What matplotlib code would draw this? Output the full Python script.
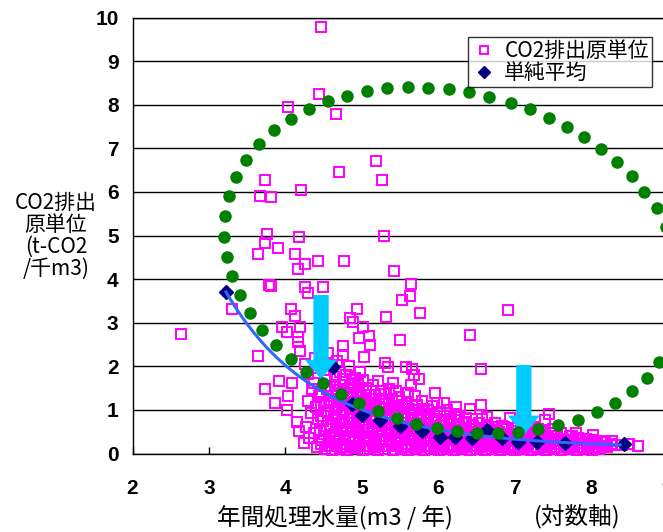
import matplotlib
matplotlib.use('Agg')
import matplotlib.pyplot as plt
import numpy as np
from matplotlib.patches import FancyArrow

plt.rcParams['font.family'] = ['Noto Sans CJK JP', 'DejaVu Sans']

# ---------------- data ----------------
# scattered CO2 unit values (x = log10 annual volume, y = t-CO2/千m3)
outlier_pts = [
    (2.635, 2.74), (4.47, 9.775), (4.44, 8.245), (4.03, 7.95), (4.66, 7.79),
    (5.18, 6.72), (4.70, 6.46), (5.27, 6.27), (3.73, 6.27), (4.20, 6.04),
    (3.67, 5.91), (3.81, 5.89), (3.76, 5.03), (4.175, 4.97), (3.73, 4.835),
    (3.91, 4.71), (3.64, 4.575), (4.12, 4.575), (4.43, 4.415), (4.77, 4.415),
    (4.26, 4.34), (4.16, 4.225), (5.29, 5.0), (5.42, 4.19), (5.645, 3.895),
    (5.63, 3.61), (5.52, 3.51), (4.94, 3.31), (5.76, 3.215), (5.32, 3.12),
    (6.915, 3.28), (4.85, 3.10), (4.89, 3.02), (3.78, 3.87), (3.81, 3.84),
    (4.26, 3.83), (4.49, 3.83), (4.29, 3.67), (3.30, 3.31), (4.07, 3.32),
    (4.13, 3.15), (3.95, 2.89), (4.19, 2.91), (5.02, 2.89), (4.02, 2.79),
    (4.17, 2.665), (5.09, 2.695), (4.97, 2.66), (5.505, 2.61), (4.16, 2.565),
    (5.11, 2.49), (3.64, 2.24), (4.19, 2.36), (4.75, 2.465), (4.75, 2.25),
    (5.03, 2.22), (5.31, 2.07), (5.34, 1.99), (5.66, 1.93), (5.68, 1.80),
    (5.75, 1.72), (5.58, 1.99), (3.92, 1.67), (3.74, 1.47), (4.09, 1.62),
    (3.865, 1.15), (4.03, 1.32), (4.02, 1.00), (4.15, 0.73), (4.18, 0.52),
    (4.24, 0.23), (6.41, 2.725), (6.565, 1.945), (5.61, 1.38), (5.96, 1.38),
    (6.07, 1.15), (6.23, 1.06), (6.565, 1.11), (6.64, 0.845), (7.455, 0.906),
    (7.40, 0.77), (8.62, 0.18), (8.03, 0.42),
]
cluster_pts = [
    (4.31, 0.36), (4.27, 0.61), (4.33, 0.92), (4.29, 1.21), (4.35, 1.47), (4.30, 1.83), (4.26, 2.06),
    (4.41, 0.16), (4.38, 0.47), (4.43, 0.79), (4.40, 1.06), (4.44, 1.31), (4.37, 1.62), (4.42, 1.96), (4.39, 2.18),
    (4.52, 0.10), (4.48, 0.31), (4.53, 0.56), (4.49, 0.74), (4.55, 0.97), (4.51, 1.16), (4.47, 1.41), (4.54, 1.68), (4.50, 1.92), (4.56, 2.31),
    (4.61, 0.08), (4.58, 0.26), (4.63, 0.44), (4.60, 0.66), (4.64, 0.86), (4.57, 1.09), (4.62, 1.31), (4.59, 1.54), (4.65, 1.76), (4.61, 2.02),
    (4.71, 0.11), (4.68, 0.29), (4.73, 0.51), (4.70, 0.69), (4.74, 0.91), (4.67, 1.06), (4.72, 1.24), (4.69, 1.46), (4.75, 1.64), (4.71, 1.86), (4.68, 2.12),
    (4.81, 0.08), (4.78, 0.21), (4.83, 0.41), (4.79, 0.59), (4.84, 0.81), (4.77, 0.99), (4.82, 1.19), (4.80, 1.36), (4.85, 1.56), (4.79, 1.79), (4.83, 2.01),
    (4.91, 0.12), (4.88, 0.31), (4.93, 0.49), (4.90, 0.71), (4.94, 0.84), (4.87, 1.01), (4.92, 1.21), (4.89, 1.39), (4.95, 1.61), (4.91, 1.74),
    (5.01, 0.08), (4.98, 0.24), (5.03, 0.41), (5.00, 0.61), (5.04, 0.76), (4.97, 0.94), (5.02, 1.11), (4.99, 1.29), (5.05, 1.51), (5.01, 1.69), (4.98, 1.88),
    (5.11, 0.11), (5.08, 0.29), (5.13, 0.46), (5.10, 0.64), (5.14, 0.81), (5.07, 0.99), (5.12, 1.16), (5.09, 1.34), (5.15, 1.56),
    (5.21, 0.08), (5.18, 0.21), (5.23, 0.39), (5.20, 0.56), (5.24, 0.71), (5.17, 0.89), (5.22, 1.06), (5.19, 1.24), (5.25, 1.44), (5.21, 1.66),
    (5.31, 0.11), (5.28, 0.31), (5.33, 0.49), (5.30, 0.66), (5.34, 0.79), (5.27, 0.96), (5.32, 1.14), (5.29, 1.36), (5.35, 1.49),
    (5.41, 0.08), (5.38, 0.26), (5.43, 0.41), (5.40, 0.59), (5.44, 0.76), (5.37, 0.91), (5.42, 1.09), (5.39, 1.26), (5.45, 1.44), (5.41, 1.61),
    (5.51, 0.11), (5.48, 0.29), (5.53, 0.46), (5.50, 0.61), (5.54, 0.79), (5.47, 0.96), (5.52, 1.11), (5.49, 1.29),
    (5.61, 0.08), (5.58, 0.21), (5.63, 0.39), (5.60, 0.56), (5.64, 0.71), (5.57, 0.86), (5.62, 1.01), (5.59, 1.19), (5.65, 1.56),
    (5.71, 0.11), (5.68, 0.31), (5.73, 0.44), (5.70, 0.61), (5.74, 0.76), (5.67, 0.89), (5.72, 1.11), (5.69, 1.31),
    (5.81, 0.08), (5.78, 0.24), (5.83, 0.41), (5.80, 0.54), (5.84, 0.71), (5.77, 0.84), (5.82, 1.01), (5.79, 1.21),
    (5.91, 0.11), (5.88, 0.29), (5.93, 0.46), (5.90, 0.59), (5.94, 0.76), (5.87, 0.91), (5.92, 1.09),
    (6.01, 0.08), (5.98, 0.21), (6.03, 0.36), (6.00, 0.49), (6.04, 0.66), (5.97, 0.79), (6.02, 0.96), (5.99, 1.16),
    (6.11, 0.11), (6.08, 0.26), (6.13, 0.39), (6.10, 0.56), (6.14, 0.69), (6.07, 0.86), (6.12, 0.99),
    (6.21, 0.08), (6.18, 0.19), (6.23, 0.36), (6.20, 0.51), (6.24, 0.64), (6.17, 0.79), (6.22, 0.91),
    (6.31, 0.11), (6.28, 0.24), (6.33, 0.41), (6.30, 0.54), (6.34, 0.71), (6.27, 0.86),
    (6.41, 0.08), (6.38, 0.21), (6.43, 0.34), (6.40, 0.49), (6.44, 0.66), (6.37, 0.81), (6.42, 1.01),
    (6.51, 0.11), (6.48, 0.26), (6.53, 0.39), (6.50, 0.56), (6.54, 0.71),
    (6.61, 0.08), (6.58, 0.19), (6.63, 0.36), (6.60, 0.51), (6.64, 0.66), (6.57, 0.79),
    (6.71, 0.11), (6.68, 0.24), (6.73, 0.41), (6.70, 0.54), (6.74, 0.69),
    (6.81, 0.08), (6.78, 0.21), (6.83, 0.34), (6.80, 0.49), (6.84, 0.64),
    (6.91, 0.11), (6.88, 0.26), (6.93, 0.39), (6.90, 0.56), (6.94, 0.81),
    (7.01, 0.08), (6.98, 0.19), (7.03, 0.36), (7.00, 0.51), (7.04, 0.66),
    (7.11, 0.11), (7.08, 0.24), (7.13, 0.41), (7.10, 0.54),
    (7.21, 0.08), (7.18, 0.21), (7.23, 0.34), (7.20, 0.49), (7.24, 0.61),
    (7.31, 0.11), (7.28, 0.26), (7.33, 0.39), (7.30, 0.56),
    (7.41, 0.08), (7.38, 0.19), (7.43, 0.36), (7.40, 0.49),
    (7.51, 0.11), (7.48, 0.24), (7.53, 0.41), (7.50, 0.56),
    (7.61, 0.08), (7.58, 0.21), (7.63, 0.34), (7.60, 0.46),
    (7.71, 0.11), (7.68, 0.26), (7.73, 0.39),
    (7.81, 0.08), (7.78, 0.19), (7.83, 0.36), (7.80, 0.46),
    (7.91, 0.11), (7.88, 0.24), (7.93, 0.34),
    (8.01, 0.08), (7.98, 0.21), (8.03, 0.31),
    (8.11, 0.11), (8.08, 0.21), (8.13, 0.29),
    (8.21, 0.14), (8.18, 0.26),
    (8.31, 0.19), (8.28, 0.29),
]
cluster_fill_pts = [
    (4.46, 0.22), (4.45, 0.52), (4.47, 0.85), (4.46, 1.12), (4.45, 1.38),
    (4.56, 0.18), (4.57, 0.38), (4.55, 0.62), (4.56, 0.92), (4.57, 1.22), (4.55, 1.48),
    (4.66, 0.17), (4.65, 0.37), (4.67, 0.58), (4.66, 0.78), (4.65, 1.00), (4.67, 1.18), (4.66, 1.38), (4.65, 1.58),
    (4.76, 0.16), (4.77, 0.36), (4.75, 0.55), (4.76, 0.75), (4.77, 0.95), (4.75, 1.12), (4.76, 1.30), (4.77, 1.48), (4.75, 1.70),
    (4.86, 0.18), (4.85, 0.40), (4.87, 0.60), (4.86, 0.78), (4.85, 0.92), (4.87, 1.10), (4.86, 1.30), (4.85, 1.50), (4.87, 1.68),
    (4.96, 0.17), (4.97, 0.34), (4.95, 0.52), (4.96, 0.68), (4.97, 0.86), (4.95, 1.04), (4.96, 1.20), (4.97, 1.40), (4.95, 1.58),
    (5.06, 0.18), (5.05, 0.36), (5.07, 0.53), (5.06, 0.70), (5.05, 0.88), (5.07, 1.06), (5.06, 1.25), (5.05, 1.44),
    (5.16, 0.16), (5.17, 0.32), (5.15, 0.48), (5.16, 0.63), (5.17, 0.80), (5.15, 0.98), (5.16, 1.15), (5.17, 1.35),
    (5.26, 0.18), (5.25, 0.40), (5.27, 0.57), (5.26, 0.73), (5.25, 0.88), (5.27, 1.05), (5.26, 1.25),
    (5.36, 0.17), (5.37, 0.34), (5.35, 0.50), (5.36, 0.68), (5.37, 0.84), (5.35, 1.00), (5.36, 1.18),
    (5.46, 0.18), (5.45, 0.37), (5.47, 0.53), (5.46, 0.70), (5.45, 0.87), (5.47, 1.03), (5.46, 1.20),
    (5.56, 0.16), (5.57, 0.30), (5.55, 0.48), (5.56, 0.63), (5.57, 0.78), (5.55, 0.94), (5.56, 1.10),
    (5.66, 0.18), (5.65, 0.38), (5.67, 0.52), (5.66, 0.68), (5.65, 0.82), (5.67, 1.00),
    (5.76, 0.16), (5.77, 0.33), (5.75, 0.48), (5.76, 0.62), (5.77, 0.78), (5.75, 0.93),
    (5.86, 0.18), (5.85, 0.37), (5.87, 0.52), (5.86, 0.68), (5.85, 0.83), (5.87, 1.00),
    (5.96, 0.16), (5.97, 0.28), (5.95, 0.42), (5.96, 0.56), (5.97, 0.72), (5.95, 0.87),
    (6.06, 0.17), (6.05, 0.32), (6.07, 0.47), (6.06, 0.62), (6.05, 0.77),
    (6.16, 0.15), (6.17, 0.30), (6.15, 0.44), (6.16, 0.58), (6.17, 0.72),
    (6.26, 0.17), (6.25, 0.30), (6.27, 0.46), (6.26, 0.60), (6.25, 0.76),
    (6.36, 0.15), (6.37, 0.28), (6.35, 0.42), (6.36, 0.57), (6.37, 0.72),
    (6.46, 0.17), (6.45, 0.32), (6.47, 0.47), (6.46, 0.62),
    (6.56, 0.15), (6.57, 0.28), (6.55, 0.44), (6.56, 0.58),
    (6.66, 0.17), (6.65, 0.30), (6.67, 0.46), (6.66, 0.60),
    (6.76, 0.15), (6.77, 0.30), (6.75, 0.46), (6.76, 0.60),
    (6.86, 0.16), (6.85, 0.30), (6.87, 0.44), (6.86, 0.60),
    (6.96, 0.15), (6.97, 0.28), (6.95, 0.44), (6.96, 0.58),
    (7.06, 0.16), (7.05, 0.30), (7.07, 0.45),
    (7.16, 0.15), (7.17, 0.30), (7.15, 0.44),
    (7.26, 0.16), (7.25, 0.30), (7.27, 0.45),
    (7.36, 0.15), (7.37, 0.28), (7.35, 0.42),
    (7.46, 0.16), (7.45, 0.30), (7.47, 0.46),
    (7.56, 0.15), (7.57, 0.28), (7.55, 0.40),
    (7.66, 0.16), (7.65, 0.30),
    (7.76, 0.15), (7.77, 0.28), (7.75, 0.40),
    (7.86, 0.16), (7.85, 0.30),
    (7.96, 0.15), (7.97, 0.26),
    (8.06, 0.16), (8.05, 0.26),
    (8.16, 0.18), (8.26, 0.22), (8.40, 0.20), (8.50, 0.22),
]

# simple average (diamonds)
avg_x = [3.224, 4.628, 4.869, 5.008, 5.240, 5.501, 5.789, 6.025, 6.221, 6.440,
         6.644, 6.833, 7.050, 7.291, 7.661, 8.433]
avg_y = [3.704, 1.995, 1.135, 0.883, 0.768, 0.631, 0.516, 0.385, 0.385, 0.349,
         0.539, 0.349, 0.271, 0.271, 0.252, 0.218]

# trend curve
trend_x = [3.224, 3.407, 3.757, 3.931, 4.192, 4.367, 4.628, 4.804, 5.065, 5.239,
           5.501, 5.675, 6.025, 6.588, 7.242, 8.381]
trend_y = [3.704, 3.138, 2.450, 2.144, 1.839, 1.502, 1.296, 1.089, 0.998, 0.849,
           0.745, 0.654, 0.539, 0.385, 0.310, 0.195]

# green dotted ring
ring_x = [8.983, 8.861, 8.699, 8.531, 8.336, 8.130, 7.910, 7.681, 7.445, 7.199,
          6.948, 6.660, 6.397, 6.135, 5.868, 5.599, 5.331, 5.069, 4.802, 4.552,
          4.308, 4.072, 3.852, 3.651, 3.486, 3.355, 3.257, 3.207, 3.198, 3.233,
          3.302, 3.407, 3.542, 3.695, 3.878, 4.068, 4.275, 4.493, 4.725, 4.965,
          5.211, 5.459, 5.715, 5.979, 6.243, 6.513, 6.777, 7.048, 7.310, 7.572,
          7.825, 8.076, 8.312, 8.529, 8.730, 8.891, 9.05]
ring_y = [5.195, 5.624, 6.005, 6.360, 6.679, 6.977, 7.248, 7.489, 7.706, 7.890,
          8.039, 8.183, 8.284, 8.353, 8.390, 8.399, 8.376, 8.321, 8.206, 8.085,
          7.906, 7.679, 7.413, 7.103, 6.732, 6.335, 5.906, 5.440, 4.972, 4.514,
          4.064, 3.628, 3.229, 2.839, 2.495, 2.167, 1.876, 1.606, 1.365, 1.154,
          0.968, 0.810, 0.683, 0.585, 0.516, 0.477, 0.466, 0.486, 0.555, 0.644,
          0.775, 0.952, 1.165, 1.433, 1.743, 2.106, 2.51]

# arrows: (x, y_top, y_tip)
arrow_x = [4.467, 7.120]
arrow_top = [3.635, 2.03]
arrow_tip = [1.70, 0.42]

x_ticks = [2, 3, 4, 5, 6, 7, 8, 9]
y_ticks = [0, 1, 2, 3, 4, 5, 6, 7, 8, 9, 10]
legend_labels = ['CO2排出原単位', '単純平均']
y_label = 'CO2排出\n原単位\n(t-CO2\n/千m3)'
x_label = '年間処理水量(m3 / 年)'
x_note = '(対数軸)'

# ---------------- figure ----------------
W, H = 663, 532
fig = plt.figure(figsize=(W / 100, H / 100), dpi=100)
ax = fig.add_axes([132.5 / W, 1 - 453.5 / H, (667.5 - 132.5) / W, (453.5 - 17.5) / H])
ax.set_xlim(2, 9)
ax.set_ylim(0, 10)

ax.set_yticks(y_ticks)
ax.set_xticks(x_ticks)
ax.yaxis.grid(True, color='black', lw=1.0)
ax.set_axisbelow(True)
for s in ax.spines.values():
    s.set_color('black')
    s.set_linewidth(1.0)

ax.tick_params(axis='y', length=0, pad=10)
ax.tick_params(axis='x', direction='in', length=5, width=1, pad=18)
for lab in ax.get_xticklabels() + ax.get_yticklabels():
    lab.set_family(['Liberation Sans', 'DejaVu Sans'])
    lab.set_fontsize(15)
    lab.set_fontweight('bold')

all_pts = outlier_pts + cluster_pts + cluster_fill_pts
sq_x = [p[0] for p in all_pts]
sq_y = [p[1] for p in all_pts]
h_sq, = ax.plot(sq_x, sq_y, 's', mfc='none', mec='#FF00FF', ms=6.5, mew=1.4,
                ls='none', zorder=3, clip_on=False)
h_avg, = ax.plot(avg_x, avg_y, 'D', color='#000080', ms=7, ls='none', zorder=3.5)

# smooth trend curve through the read points
coef = np.polyfit(trend_x, np.log(trend_y), 3)
tx = np.linspace(trend_x[0], trend_x[-1], 200)
ax.plot(tx, np.exp(np.polyval(coef, tx)), color='#3366FF', lw=2.2, zorder=4)

for x0, yt, yb in zip(arrow_x, arrow_top, arrow_tip):
    ax.add_patch(FancyArrow(x0, yt, 0, yb - yt, width=0.2, head_width=0.42,
                            head_length=0.45, length_includes_head=True,
                            color='#00CCFF', lw=0, zorder=5))

ax.plot(ring_x, ring_y, 'o', color='#008000', ms=8, ls='none', zorder=6)

leg = fig.legend([h_sq, h_avg], legend_labels, loc='upper right',
                 bbox_to_anchor=(652 / W, 1 - 37 / H), bbox_transform=fig.transFigure,
                 fontsize=15, frameon=True, fancybox=False, borderaxespad=0,
                 handletextpad=0.3, borderpad=0.15, labelspacing=0.0,
                 handlelength=1.3, markerscale=0.9)
leg.get_frame().set_edgecolor('black')
leg.get_frame().set_linewidth(1.0)
leg.set_zorder(10)

fig.text(56 / W, 1 - 236 / H, y_label, ha='center', va='center', fontsize=15,
         linespacing=1.0)
fig.text(335 / W, 1 - 517 / H, x_label, ha='center', va='center', fontsize=17)
fig.text(577 / W, 1 - 517 / H, x_note, ha='center', va='center', fontsize=17)

fig.savefig('out.png', dpi=100)
